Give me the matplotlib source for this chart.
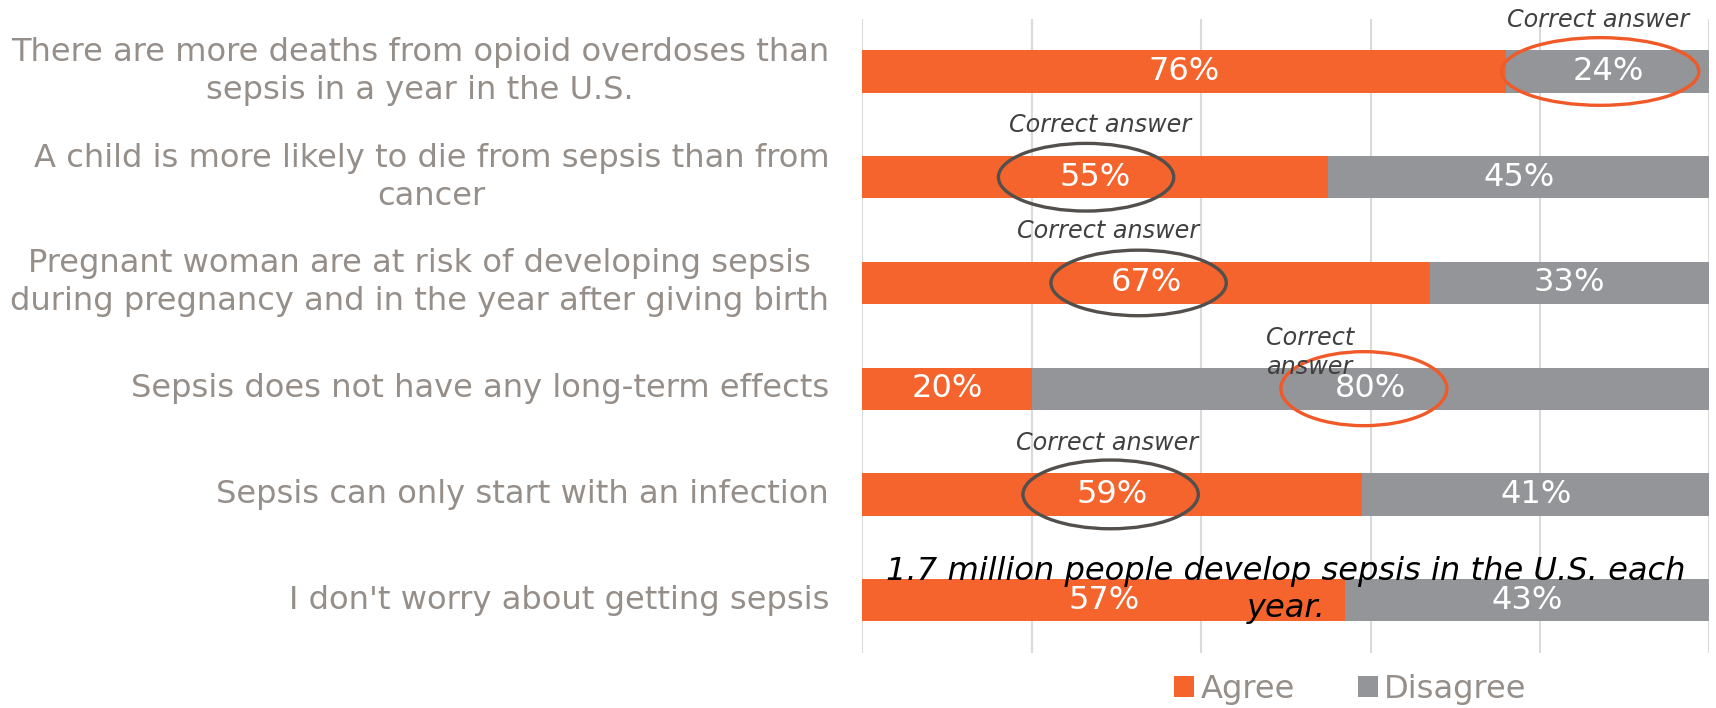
import matplotlib
matplotlib.use("Agg")
import matplotlib.pyplot as plt
from matplotlib.patches import Ellipse, Patch

# Survey statements and responses (percent)
statements = [
    "There are more deaths from opioid overdoses than\nsepsis in a year in the U.S.",
    "A child is more likely to die from sepsis than from\ncancer",
    "Pregnant woman are at risk of developing sepsis\nduring pregnancy and in the year after giving birth",
    "Sepsis does not have any long-term effects",
    "Sepsis can only start with an infection",
    "I don't worry about getting sepsis",
]
agree = [76, 55, 67, 20, 59, 57]
disagree = [24, 45, 33, 80, 41, 43]
# which response is correct for each statement (None = no marker)
correct = ["Disagree", "Agree", "Agree", "Disagree", "Agree", None]
fact_note = "1.7 million people develop sepsis in the U.S. each\nyear."

# ring placement tweaks per row: (x shift from label centre, ring width,
# ring height, caption x shift from ring centre)
ring_style = [
    (-0.9, 23.3, 0.64, -0.3),
    (-1.1, 20.7, 0.64, 1.7),
    (-0.9, 20.7, 0.62, -3.6),
    (-0.8, 19.6, 0.70, -11.5),
    (-0.2, 20.7, 0.65, -0.4),
    None,
]

ORANGE = "#F4642C"
GRAY = "#939598"
LABEL = "#958E89"
RING_ORANGE = "#F05A28"
RING_DARK = "#534F4C"
NOTE = "#404040"

FONT = "DejaVu Sans"
BIG = 23.1
SMALL = 17.2

fig = plt.figure(figsize=(17.16, 7.08), dpi=100)
ax = fig.add_axes([0.5026, 0.0777, 0.4936, 0.896])

y = list(range(len(statements)))
bar_h = 0.4
ax.barh(y, agree, height=bar_h, color=ORANGE, zorder=2)
ax.barh(y, disagree, left=agree, height=bar_h, color=GRAY, zorder=2)

for i, (a, d) in enumerate(zip(agree, disagree)):
    ax.text(a / 2, i, f"{a}%", ha="center", va="center", color="white",
            fontsize=BIG, family=FONT, zorder=4)
    ax.text(a + d / 2, i, f"{d}%", ha="center", va="center", color="white",
            fontsize=BIG, family=FONT, zorder=4)

# rings around the correct answers, with a caption above each
for i, c in enumerate(correct):
    if c is None:
        continue
    dx, w, h, cap_dx = ring_style[i]
    if c == "Agree":
        cx = agree[i] / 2 + dx
        col = RING_DARK
    else:
        cx = agree[i] + disagree[i] / 2 + dx
        col = RING_ORANGE
    ax.add_patch(Ellipse((cx, i), w, h, fill=False, edgecolor=col,
                         linewidth=2.4, zorder=5))
    if i == 3:
        ax.text(cx + cap_dx, i - 0.345, "Correct\nanswer", ha="left", va="center",
                fontsize=SMALL, style="italic", color=NOTE, family=FONT,
                linespacing=1.26, zorder=6)
    else:
        ax.text(cx + cap_dx, i - 0.49, "Correct answer",
                ha="center", va="center", fontsize=SMALL, style="italic",
                color=NOTE, family=FONT, zorder=6)

ax.text(50, 4.9, fact_note, ha="center", va="center", multialignment="center",
        fontsize=BIG, style="italic", color="black", family=FONT,
        linespacing=1.25, zorder=6)

ax.set_xlim(0, 100)
ax.set_ylim(len(statements) - 0.5, -0.5)
ax.set_xticks(range(0, 101, 20))
ax.set_xticklabels([])
ax.tick_params(axis="x", length=0)
ax.grid(axis="x", color="#DADADA", linewidth=1.5, zorder=0)
ax.set_axisbelow(True)
for s in ax.spines.values():
    s.set_visible(False)

ax.set_yticks(y)
ax.set_yticklabels(statements, fontsize=BIG, color=LABEL, family=FONT,
                   multialignment="center", linespacing=1.29)
for t in ax.get_yticklabels():
    t.set_verticalalignment("center")
ax.tick_params(axis="y", length=0, pad=24)

handles = [Patch(facecolor=ORANGE, label="Agree"),
           Patch(facecolor=GRAY, label="Disagree")]
fig.legend(handles=handles, loc="center", bbox_to_anchor=(0.787, 0.026), ncol=2,
           frameon=False, handlelength=0.62, handleheight=0.62,
           handletextpad=0.2, columnspacing=1.95,
           prop={"family": FONT, "size": BIG},
           labelcolor=LABEL)

fig.savefig("out.png", dpi=100)
